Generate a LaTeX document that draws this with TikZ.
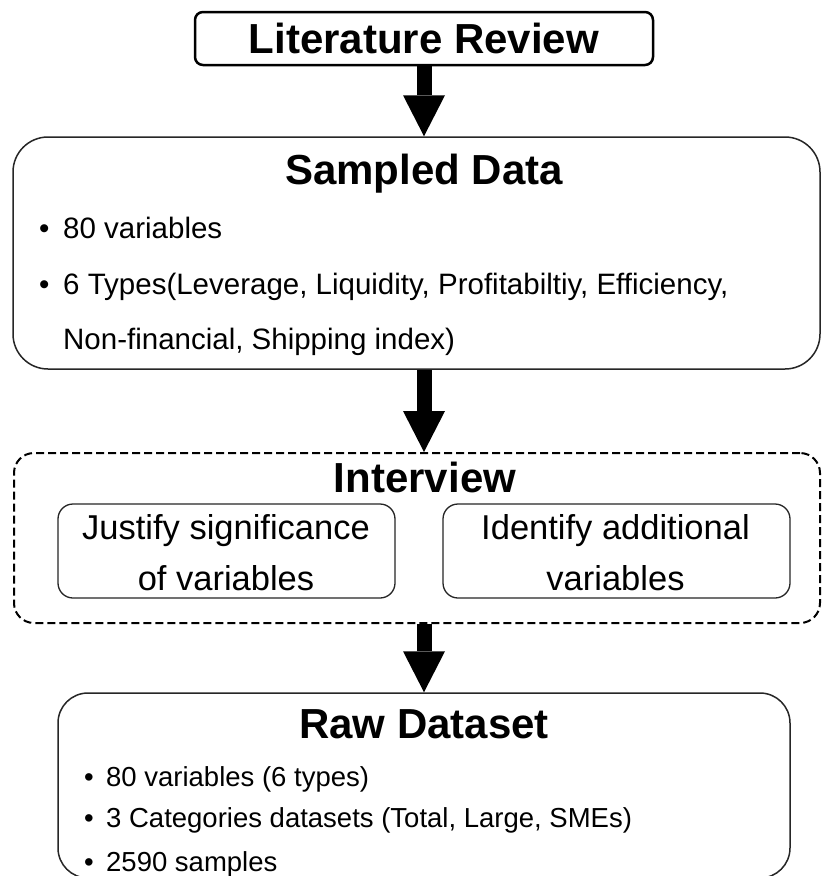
\documentclass[tikz,border=0pt]{standalone}
\usepackage{fontspec}
\setmainfont{Liberation Sans}
\usetikzlibrary{arrows.meta}
\begin{document}
\begin{tikzpicture}[x=1pt,y=-1pt,
  panel/.style={draw=black!85, line width=1.5pt, rectangle, inner sep=0pt},
  titletext/.style={font=\fontsize{42pt}{50pt}\selectfont\bfseries, anchor=base, inner sep=0pt},
  bodytext/.style={font=\fontsize{29.5pt}{35pt}\selectfont, anchor=base west, inner sep=0pt},
  rawtext/.style={font=\fontsize{27.5pt}{33pt}\selectfont, anchor=base west, inner sep=0pt},
  subtext/.style={font=\fontsize{34.5pt}{40pt}\selectfont, anchor=base, inner sep=0pt},
  bigarrow/.style={line width=15pt, draw=black, -{Triangle[length=41pt,width=42pt,line width=0pt]}}
]
\fill[white] (0,0) rectangle (822,876);
\useasboundingbox (0,0) rectangle (822,876);

% Literature Review
\node[panel, line width=2.5pt, draw=black, rounded corners=8pt, minimum width=458pt, minimum height=53pt,
      font=\fontsize{42pt}{50pt}\selectfont\bfseries] (lit) at (424,38.5) {Literature Review};

% Sampled Data
\node[panel, rounded corners=35pt, minimum width=807pt, minimum height=232pt] (sd) at (416.5,253) {};
\node[titletext] (sdT) at (424,184) {Sampled Data};
\node[bodytext] (sdb1) at (39,238.6) {•};
\node[bodytext] (sdl1) at (63,238.6) {80 variables};
\node[bodytext] (sdb2) at (39,294.6) {•};
\node[bodytext] (sdl2) at (63,294.6) {6 Types(Leverage, Liquidity, Profitabiltiy, Efficiency,};
\node[bodytext] (sdl3) at (63,349.6) {Non-financial, Shipping index)};

% Interview
\node[panel, draw=black, line width=2pt, dash pattern=on 8pt off 4pt, rounded corners=20pt,
      minimum width=806pt, minimum height=170pt] (iv) at (417,538) {};
\node[titletext] (ivT) at (425,492) {Interview};
\node[panel, line width=1.3pt, rounded corners=15pt, minimum width=337pt, minimum height=94pt] (js) at (226.5,551) {};
\node[subtext] (js1) at (226,539.4) {Justify significance};
\node[subtext] (js2) at (226,590.4) {of variables};
\node[panel, line width=1.3pt, rounded corners=15pt, minimum width=347pt, minimum height=94pt] (ia) at (616.5,551) {};
\node[subtext] (ia1) at (615.5,539.4) {Identify additional};
\node[subtext] (ia2) at (615.5,590.4) {variables};

% Raw Dataset
\node[panel, rounded corners=30pt, minimum width=732pt, minimum height=185pt] (raw) at (424,785.5) {};
\node[titletext] (rawT) at (424,738) {Raw Dataset};
\node[rawtext] (rb1) at (84,786.8) {•};
\node[rawtext] (rl1) at (106,786.8) {80 variables (6 types)};
\node[rawtext] (rb2) at (84,827.8) {•};
\node[rawtext] (rl2) at (106,827.8) {3 Categories datasets (Total, Large, SMEs)};
\node[rawtext] (rb3) at (84,871.8) {•};
\node[rawtext] (rl3) at (106,871.8) {2590 samples};

% Arrows
\draw[bigarrow] (lit.south) -- (lit.south |- sd.north);
\draw[bigarrow] (lit.south |- sd.south) -- (lit.south |- iv.north);
\draw[bigarrow] (lit.south |- iv.south) -- (lit.south |- raw.north);
\end{tikzpicture}
\end{document}
